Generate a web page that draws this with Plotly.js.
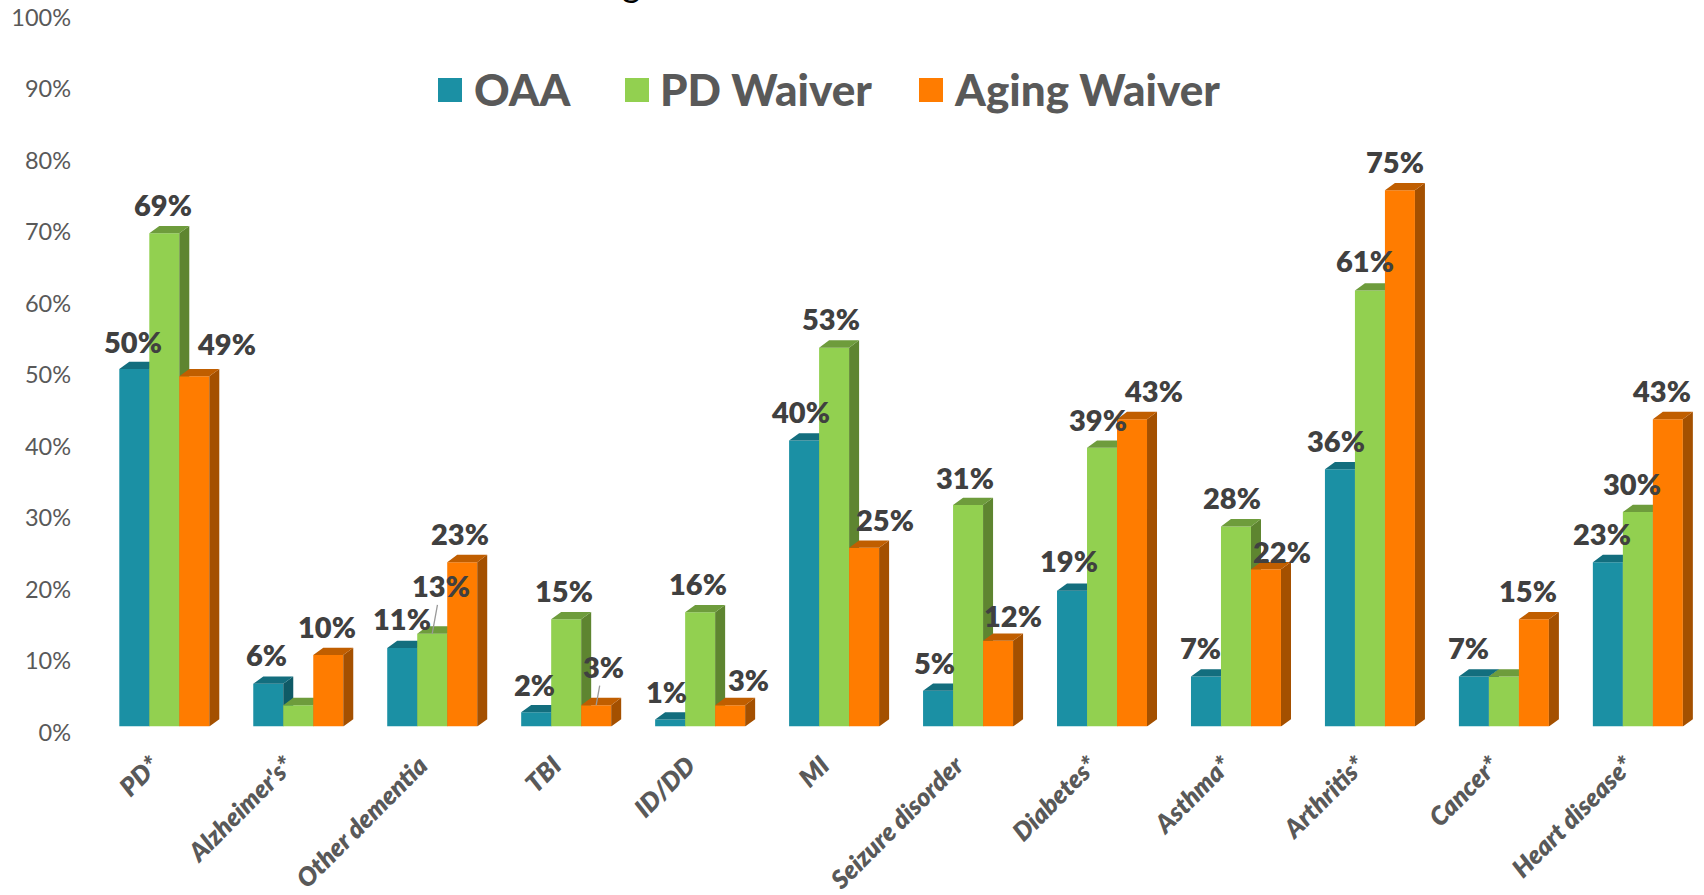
<!DOCTYPE html>
<html><head><meta charset="utf-8">
<script src="https://cdn.plot.ly/plotly-3.0.1.min.js"></script>
<style>html,body{margin:0;padding:0;background:#fff}#c{width:1704px;height:895px}</style>
</head><body><div id="c"></div>
<script>
const categories=["PD*","Alzheimer's*","Other dementia","TBI","ID/DD","MI","Seizure disorder","Diabetes*","Asthma*","Arthritis*","Cancer*","Heart disease*"];
const seriesNames=["OAA","PD Waiver","Aging Waiver"];
const oaa=[50,6,11,2,1,40,5,19,7,36,7,23];
const pdWaiver=[69,3,13,15,16,53,31,39,28,61,7,30];
const agingWaiver=[49,10,23,3,3,25,12,43,22,75,15,43];
const tickValues=[0,10,20,30,40,50,60,70,80,90,100];
const hiddenLabels=[[],[1,10],[]];
// label nudges relative to each bar's top centre, px in the shrunk reference scale
const labelDx=[[-1,-2,0,-2,-3,-3,-3,-2.5,-5,-4,-5,-5],[-1,0,8,-2,-2,-2.6,-3,-4,-4,-4.6,0,-5],[30,-1,-2,6.4,17,19,14,20,15,-5,-5,-6]];
const labelDy=[[-23,-24.5,-24.6,-23,-23,-24,-24,-25,-24,-24,-24,-24],[-24,0,-41.5,-24,-24,-24,-23,-24,-24,-25,0,-24],[-27.6,-24,-24,-33,-21,-23.5,-21,-24,-14,-24,-24,-24]];
const leaderLines=[[1,2],[2,3]];

const colors=[{front:"#1B90A4",top:"#136E7E",side:"#0F5A66"},{front:"#92D050",top:"#6E9C3C",side:"#5E8530"},{front:"#FF7C00",top:"#C05E00",side:"#A45000"}];
const values=[oaa,pdWaiver,agingWaiver];
const W=1704,H=895,S=1704/1568;
const step=133.96, cx0=164.3, barPx=30, depthPx=10, depthPy=7.3, pxPerPct=7.15;
const bw=barPx/step, dX=depthPx/step, dY=depthPy/pxPerPct;
const xRange=[-cx0/step,(W-cx0)/step];
const baseY=726.6, topY=baseY-100*pxPerPct;
const tickBase=732.4, tickTop=tickBase-100*pxPerPct;
const labelLift=2.6;
const dom=[(H-baseY)/H,(H-topY)/H];
const dom2=[(H-tickBase)/H,(H-tickTop)/H];
const font="Lato, 'Open Sans', sans-serif";

const traces=[];
values.forEach((vals,s)=>{
  const n=s===0?"":String(s+1);
  const xa="x"+n, ya="y"+n;
  const off=(s-1)*bw;
  const xc=vals.map((v,i)=>i+off);
  const sx=[],sy=[],tx=[],ty=[];
  vals.forEach((v,i)=>{
    const l=i+off-bw/2,r=i+off+bw/2;
    sx.push(r,r+dX,r+dX,r,r,null); sy.push(0,dY,v+dY,v,0,null);
    tx.push(l,r,r+dX,l+dX,l,null); ty.push(v,v,v+dY,v+dY,v,null);
  });
  traces.push({type:"bar",name:seriesNames[s],x:xc,y:vals,width:bw,marker:{color:colors[s].front,line:{width:0}},xaxis:xa,yaxis:ya,showlegend:false,hoverinfo:"x+y"});
  traces.push({type:"scatter",mode:"lines",x:sx,y:sy,fill:"toself",fillcolor:colors[s].side,line:{width:0,color:colors[s].side},xaxis:xa,yaxis:ya,showlegend:false,hoverinfo:"skip",cliponaxis:false});
  traces.push({type:"scatter",mode:"lines",x:tx,y:ty,fill:"toself",fillcolor:colors[s].top,line:{width:0,color:colors[s].top},xaxis:xa,yaxis:ya,showlegend:false,hoverinfo:"skip",cliponaxis:false});
});
// carrier for the percentage axis
traces.push({type:"scatter",mode:"none",x:[0],y:[0],xaxis:"x4",yaxis:"y4",showlegend:false,hoverinfo:"skip"});

const annotations=[];
values.forEach((vals,s)=>{
  vals.forEach((v,i)=>{
    if(hiddenLabels[s].includes(i))return;
    const leader=leaderLines.some(p=>p[0]===s&&p[1]===i);
    const a={xref:"x",yref:"y",x:i+(s-1)*bw,y:v,text:v+"%",font:{family:font,size:29,color:"#404040",weight:800},xanchor:"center",yanchor:"middle"};
    const dy=labelDy[s][i]*S-labelLift;
    if(leader){Object.assign(a,{showarrow:true,arrowhead:0,arrowwidth:1.3,arrowcolor:"#999999",ax:labelDx[s][i]*S,ay:dy,standoff:0});}
    else{Object.assign(a,{showarrow:false,xshift:labelDx[s][i]*S,yshift:-dy});}
    annotations.push(a);
  });
});
const legendSquares=[438,625,919], legendTextX=[472,658,952];
const shapes=[];
seriesNames.forEach((name,s)=>{
  shapes.push({type:"rect",xref:"paper",yref:"paper",x0:legendSquares[s]/W,x1:(legendSquares[s]+24)/W,y0:1-102/H,y1:1-78/H,fillcolor:colors[s].front,line:{width:0}});
  annotations.push({xref:"paper",yref:"paper",x:legendTextX[s]/W,y:1-89/H,xanchor:"left",yanchor:"middle",showarrow:false,text:name,font:{family:font,size:44,color:"#595959",weight:900}});
});
// the only visible part of the cropped title above the chart
annotations.push({xref:"paper",yref:"paper",x:631/W,y:1-7/H,xanchor:"center",yanchor:"bottom",showarrow:false,text:"g",font:{family:font,size:36,color:"#000"}});
const hiddenX=(o)=>Object.assign({type:"linear",range:xRange,domain:[0,1],overlaying:"x",anchor:"y",showgrid:false,zeroline:false,showticklabels:false,ticks:"",showline:false},o);
const hiddenY=(o)=>Object.assign({type:"linear",range:[0,100],overlaying:"y",showgrid:false,zeroline:false,showticklabels:false,ticks:"",showline:false},o);
const layout={
  width:W,height:H,margin:{l:0,r:0,t:0,b:0},paper_bgcolor:"#fff",plot_bgcolor:"rgba(0,0,0,0)",showlegend:false,barmode:"overlay",
  xaxis:{type:"linear",range:xRange,domain:[0,1],anchor:"y",tickmode:"array",tickvals:categories.map((c,i)=>i),ticktext:categories,tickangle:-45,
    tickfont:{family:font,size:25.5,color:"#595959",weight:800,style:"italic"},ticks:"",showgrid:false,zeroline:false,showline:false,ticklabelstandoff:18,ticklabelshift:-12,automargin:false},
  yaxis:{type:"linear",range:[0,100],domain:dom,anchor:"x",showgrid:false,zeroline:false,showticklabels:false,ticks:"",showline:false,automargin:false},
  xaxis2:hiddenX({anchor:"y2"}),yaxis2:hiddenY({anchor:"x2"}),
  xaxis3:hiddenX({anchor:"y3"}),yaxis3:hiddenY({anchor:"x3"}),
  xaxis4:{type:"linear",range:xRange,domain:[0,1],anchor:"y4",showgrid:false,zeroline:false,showticklabels:false,ticks:"",showline:false},
  yaxis4:{type:"linear",range:[0,100],domain:dom2,anchor:"free",position:71/W,tickmode:"array",tickvals:tickValues,ticktext:tickValues.map(v=>v+"%"),
    tickfont:{family:font,size:23.5,color:"#595959"},showgrid:false,zeroline:false,ticks:"",showline:false,automargin:false},
  annotations,shapes
};
Plotly.newPlot("c",traces,layout,{displayModeBar:false,responsive:false});
</script></body></html>
